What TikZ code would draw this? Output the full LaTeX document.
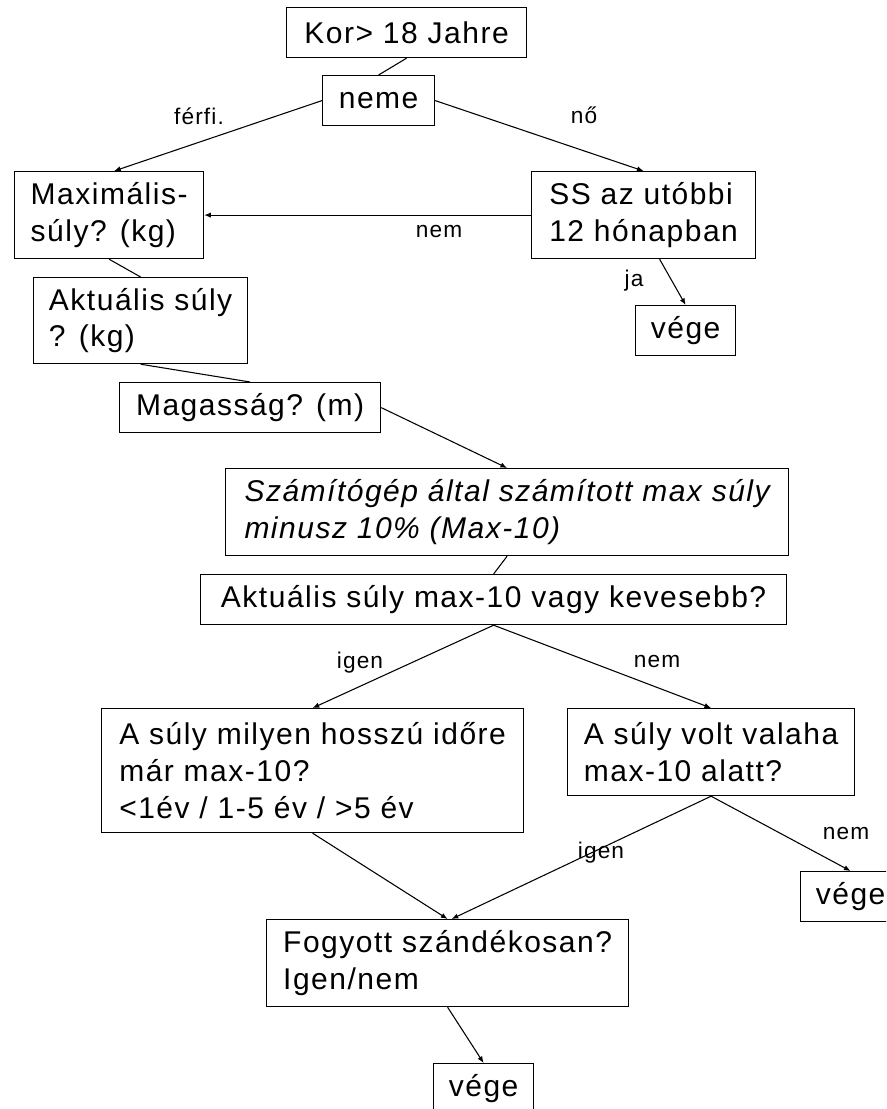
\documentclass[tikz,border=0pt]{standalone}
\usepackage{fontspec}
\setmainfont[LetterSpace=5]{Liberation Sans}
\usetikzlibrary{calc}
\usetikzlibrary{arrows.meta}
\tikzset{
	box/.style={
		draw, rectangle, line width=0.9pt, anchor=north west, align=left,
		inner sep=0pt, font=\fontsize{22.5}{27.4}\selectfont
	},
	slanted box/.style={
		box, font=\fontsize{22.5}{27.4}\selectfont\itshape
	},
	oneline/.style={minimum height=37.5pt},
	twoline/.style={minimum height=65.25pt},
	lbl/.style={
		inner sep=0pt, font=\fontsize{17}{20}\selectfont
	},
	flow/.style={
		-{Latex[length=5pt,width=4pt]}, line width=0.8pt
	},
	joint/.style={
		line width=0.8pt
	}
}

\begin{document}
\begin{tikzpicture}[x=0.75pt, y=-0.75pt]
\useasboundingbox (0,0) rectangle (886,1109);
\clip (0,0) rectangle (886,1109);

\node[box, oneline, minimum width=180pt] (kor) at (286,7) {Kor> 18 Jahre};
\node[box, oneline, minimum width=84pt] (neme) at (322,75) {neme};
\node[box, twoline, minimum width=141.75pt] (maxi) at (14,171) {Maximális-\\súly? (kg)};
\node[box, twoline, minimum width=168pt] (ss) at (531,171) {SS az utóbbi\\12 hónapban};
\node[box, minimum height=64.5pt, minimum width=160.5pt] (akt) at (33,277) {Aktuális súly\\? (kg)};
\node[box, oneline, minimum width=75pt] (vege-ss) at (635,305) {vége};
\node[box, oneline, minimum width=195.75pt] (magas) at (119,382) {Magasság? (m)};
\node[slanted box, twoline, minimum width=422.25pt] (szam) at (225,468) {Számítógép által számított max súly\\minusz 10\% (Max-10)};
\node[box, oneline, minimum width=439.5pt] (aktmax) at (200,574) {Aktuális súly max-10 vagy kevesebb?};
\node[box, minimum height=93pt, minimum width=316.5pt] (hossz) at (101,708) {A súly milyen hosszú időre\\már max-10?\\<1év / 1-5 év / >5 év};
\node[box, twoline, minimum width=215.25pt] (volt) at (567,708) {A súly volt valaha\\max-10 alatt?};
\node[box, oneline, minimum width=75pt] (vege-volt) at (800,871) {vége};
\node[box, twoline, minimum width=271.5pt] (fogy) at (266,919) {Fogyott szándékosan?\\Igen/nem};
\node[box, oneline, minimum width=75pt] (vege-fogy) at (433,1063) {vége};

\node[lbl] (l-ferfi) at (199,116) {férfi.};
\node[lbl] (l-no) at (584,115) {nő};
\node[lbl] (l-nem1) at (439,232) {nem};
\node[lbl] (l-ja) at (634,281) {ja};
\node[lbl] (l-igen1) at (360,663) {igen};
\node[lbl] (l-nem2) at (657,662) {nem};
\node[lbl] (l-igen2) at (601,853) {igen};
\node[lbl] (l-nem3) at (846,834) {nem};

\draw [joint] (kor.south) -- (neme.north);
\draw [flow] (neme.west) -- ($(maxi.north)+(5,0)$);
\draw [flow] (neme.east) -- (ss.north);
\draw [flow] (ss.west) -- (maxi.east);
\draw [joint] (maxi.south) -- (akt.north);
\draw [flow] ($(ss.south)+(16,0)$) -- (vege-ss.north);
\draw [joint] (akt.south) -- (magas.north);
\draw [flow] (magas.east) -- (szam.north);
\draw [joint] (szam.south) -- (aktmax.north);
\draw [flow] (aktmax.south) -- (hossz.north);
\draw [flow] (aktmax.south) -- (volt.north);
\draw [flow] (hossz.south) -- (fogy.north);
\draw [flow] (volt.south) -- ($(fogy.north)+(4,0)$);
\draw [flow] (volt.south) -- (vege-volt.north);
\draw [flow] (fogy.south) -- (vege-fogy.north);

\end{tikzpicture}
\end{document}
